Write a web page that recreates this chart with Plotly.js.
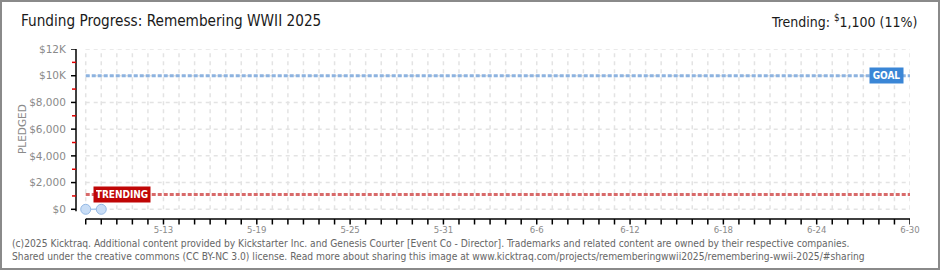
<!DOCTYPE html>
<html>
<head>
<meta charset="utf-8">
<script src="https://cdn.plot.ly/plotly-3.0.1.min.js"></script>
<style>html,body{margin:0;padding:0;background:#fff}#chart{width:940px;height:270px}</style>
</head>
<body>
<div id="chart"></div>
<script>
// ---- data ----
const dates = ['2025-05-08', '2025-05-09'];
const pledged = [0, 0];
const goal = 10000;
const trending = 1100;
const startDate = '2025-05-08';
const endDate = '2025-06-30';
const yTickVals = [0, 2000, 4000, 6000, 8000, 10000, 12000];
const yTickText = ['$0', '$2,000', '$4,000', '$6,000', '$8,000', '$10K', '$12K'];
const yMinorVals = [1000, 3000, 5000, 7000, 9000, 11000];
const xTickVals = ['2025-05-13', '2025-05-19', '2025-05-25', '2025-05-31', '2025-06-06', '2025-06-12', '2025-06-18', '2025-06-24', '2025-06-30'];
const xTickText = ['5-13', '5-19', '5-25', '5-31', '6-6', '6-12', '6-18', '6-24', '6-30'];
const titleText = 'Funding Progress: Remembering WWII 2025';
const trendText = 'Trending: <sup>$</sup>1,100 (11%)';
const footer1 = '(c)2025 Kicktraq. Additional content provided by Kickstarter Inc. and Genesis Courter [Event Co - Director]. Trademarks and related content are owned by their respective companies.';
const footer2 = 'Shared under the creative commons (CC BY-NC 3.0) license. Read more about sharing this image at www.kicktraq.com/projects/rememberingwwii2025/remembering-wwii-2025/#sharing';

// ---- layout geometry ----
const W = 940, H = 270;
const M = {l: 76, r: 30, t: 49, b: 51};
const PW = W - M.l - M.r, PH = H - M.t - M.b;
const px = x => (x - M.l) / PW;
const py = y => (H - M.b - y) / PH;

// days list
const days = [];
for (let t = Date.parse(startDate + 'T00:00:00Z'); t <= Date.parse(endDate + 'T00:00:00Z'); t += 86400000) {
  days.push(new Date(t).toISOString().slice(0, 10));
}

const grid = {color: '#e3e3e3', width: 1.5, dash: '4px,4px'};
const shapes = [];
days.forEach(d => shapes.push({type: 'line', xref: 'x', yref: 'y', x0: d, x1: d, y0: 0, y1: 12000, line: grid, layer: 'below'}));
yTickVals.forEach(v => shapes.push({type: 'line', xref: 'x', yref: 'y', x0: startDate, x1: endDate, y0: v, y1: v, line: grid, layer: 'below'}));
// axis lines
shapes.push({type: 'line', xref: 'paper', yref: 'y', x0: 0, x1: 0, y0: -150, y1: 12000, line: {color: '#000', width: 1.5}});
shapes.push({type: 'line', xref: 'x', yref: 'paper', x0: startDate, x1: endDate, y0: 0, y1: 0, line: {color: '#000', width: 1.5}});
// tick marks
yTickVals.forEach(v => shapes.push({type: 'line', xref: 'paper', yref: 'y', x0: px(71), x1: px(76), y0: v, y1: v, line: {color: '#000', width: 1.5}}));
yMinorVals.forEach(v => shapes.push({type: 'line', xref: 'paper', yref: 'y', x0: px(72), x1: px(76), y0: v, y1: v, line: {color: '#e00000', width: 1.5}}));
days.forEach(d => shapes.push({type: 'line', xref: 'x', yref: 'paper', x0: d, x1: d, y0: py(219), y1: py(224.5), line: {color: '#000', width: 1.5}}));
// border
shapes.push({type: 'rect', xref: 'paper', yref: 'paper', x0: px(1), x1: px(939), y0: py(269), y1: py(1), line: {color: '#8a8a8a', width: 2}});

const traces = [
  {x: [startDate, endDate], y: [goal, goal], mode: 'lines', line: {color: '#8db3e0', width: 3, dash: '4px,2px'}, hoverinfo: 'skip'},
  {x: [startDate, endDate], y: [trending, trending], mode: 'lines', line: {color: '#d86a6a', width: 3, dash: '4px,2px'}, hoverinfo: 'skip'},
  {x: dates, y: pledged, mode: 'lines+markers', line: {color: '#a9c9ef', width: 1.5},
   marker: {size: 10, color: '#c8ddf6', line: {color: '#94b8e4', width: 1}}, cliponaxis: false}
];

const cond = 'DejaVu Sans Condensed, DejaVu Sans';
const labFont = {family: cond, size: 10, color: '#fff'};
const annotations = [
  {xref: 'paper', yref: 'paper', x: px(19), y: py(21), xanchor: 'left', yanchor: 'middle', showarrow: false,
   text: titleText, font: {family: cond, size: 15.2, color: '#1a1a1a'}},
  {xref: 'paper', yref: 'paper', x: px(919), y: py(21), xanchor: 'right', yanchor: 'middle', showarrow: false,
   text: trendText, font: {family: cond, size: 14, color: '#1a1a1a'}},
  {xref: 'paper', yref: 'paper', x: px(22), y: py(129), xanchor: 'center', yanchor: 'middle', showarrow: false, textangle: -90,
   text: 'PLEDGED', font: {family: 'DejaVu Sans', size: 10.5, color: '#8a8a8a'}},
  {xref: 'x', yref: 'y', x: endDate, y: goal, xanchor: 'right', yanchor: 'middle', xshift: -6, showarrow: false,
   text: '<b>GOAL</b>', font: labFont, bgcolor: '#3a86d6', borderpad: 2, width: 29, height: 11},
  {xref: 'x', yref: 'y', x: startDate, y: trending, xanchor: 'left', yanchor: 'middle', xshift: 7, showarrow: false,
   text: '<b>TRENDING</b>', font: labFont, bgcolor: '#c00606', borderpad: 2, width: 52, height: 11},
  {xref: 'paper', yref: 'paper', x: px(10), y: py(243.5), xanchor: 'left', yanchor: 'middle', showarrow: false,
   text: footer1, font: {family: cond, size: 10.2, color: '#666'}},
  {xref: 'paper', yref: 'paper', x: px(10), y: py(256.5), xanchor: 'left', yanchor: 'middle', showarrow: false,
   text: footer2, font: {family: cond, size: 10.2, color: '#666'}}
];

const layout = {
  width: W, height: H, margin: M, showlegend: false,
  paper_bgcolor: '#fff', plot_bgcolor: '#fff',
  xaxis: {type: 'date', range: ['2025-05-07 09:00', '2025-06-30 00:00'], showgrid: false, zeroline: false, showline: false,
    tickvals: xTickVals, ticktext: xTickText, ticks: 'outside', ticklen: 2, tickcolor: 'rgba(0,0,0,0)',
    tickfont: {family: cond, size: 9.5, color: '#8a8a8a'}},
  yaxis: {range: [-726, 12000], showgrid: false, zeroline: false, showline: false,
    tickvals: yTickVals, ticktext: yTickText, ticks: 'outside', ticklen: 5, tickcolor: 'rgba(0,0,0,0)',
    tickfont: {family: 'DejaVu Sans', size: 10.5, color: '#8a8a8a'}, ticklabelstandoff: 2},
  shapes: shapes, annotations: annotations
};

Plotly.newPlot('chart', traces, layout, {staticPlot: true, displayModeBar: false});
</script>
</body>
</html>
